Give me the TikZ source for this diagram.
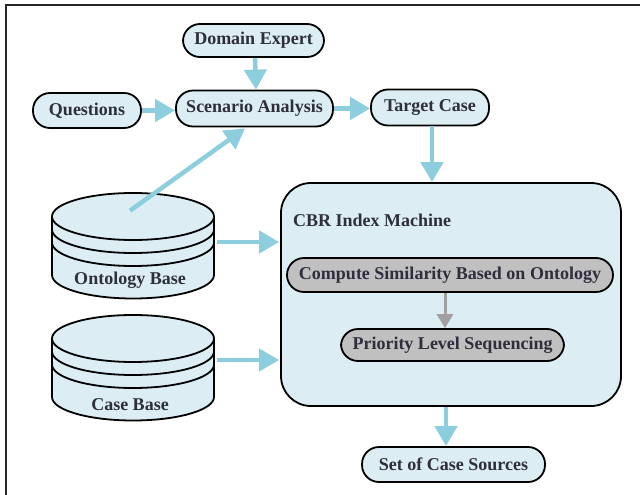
\documentclass[tikz,border=0pt]{standalone}
\usepackage{fontspec}
\setmainfont{Liberation Serif}[BoldFont={Liberation Serif Bold}]
\usetikzlibrary{arrows.meta}
\definecolor{paleblue}{HTML}{DCEEF4}
\definecolor{flowblue}{HTML}{8CCDDE}
\definecolor{stepgrey}{HTML}{C0C0C0}
\definecolor{innerarrow}{HTML}{A0A0A0}
\definecolor{inkdark}{HTML}{2E2E3C}
\begin{document}
\begin{tikzpicture}[x=1pt,y=-1pt,
  labelfont/.style={font=\rmfamily\fontsize{18}{20}\selectfont\bfseries, text=inkdark},
  pill/.style={draw=black, line width=1.8pt, fill=paleblue, rounded corners=17pt,
    minimum height=34pt, inner sep=0pt, labelfont},
  greypill/.style={pill, fill=stepgrey},
  flow/.style={draw=flowblue, line width=4.5pt, -{Triangle[length=20pt,width=22pt]}},
  innerflow/.style={draw=innerarrow, line width=3pt, -{Triangle[length=14pt,width=16pt]}},
  diskline/.style={draw=black, line width=1.8pt},
  % stacked-disk database symbol; (0,0) is the centre of the top ellipse
  pics/dbstack/.style={code={
    \fill[paleblue] (-81,0) -- (-81,58.5)
      arc[start angle=180, end angle=0, x radius=81, y radius=23.5]
      -- (81,0) arc[start angle=0, end angle=-180, x radius=81, y radius=23.5] -- cycle;
    \draw[diskline] (-81,0) -- (-81,58.5)
      arc[start angle=180, end angle=0, x radius=81, y radius=23.5] -- (81,0);
    \draw[diskline] (0,0) ellipse[x radius=81, y radius=23.5];
    \draw[diskline] (-81,13) arc[start angle=180, end angle=0, x radius=81, y radius=23.5];
    \draw[diskline] (-81,26) arc[start angle=180, end angle=0, x radius=81, y radius=23.5];
  }}]
\useasboundingbox (0,0) rectangle (640,495);

% partial frame
\draw[line width=2pt, draw=black!85] (640,5) -- (5.5,5) -- (5.5,495);

% top row
\node[pill, minimum width=141pt, minimum height=33pt] (de) at (253.5,40.5) {Domain Expert};
\node[pill, minimum width=108pt, minimum height=35pt] (q) at (87,110.5) {Questions};
\node[pill, minimum width=157pt, minimum height=36pt] (sa) at (254.5,108.5) {Scenario Analysis};
\node[pill, minimum width=118pt, minimum height=36pt] (tc) at (430,107.5) {Target Case};

% databases
\pic at (133,216.5) {dbstack};
\pic at (133,338.5) {dbstack};
\node[minimum width=162pt, minimum height=105pt, inner sep=0pt] (onto) at (133,245.5) {};
\node[minimum width=162pt, minimum height=106pt, inner sep=0pt] (cb) at (133,368) {};
\node[labelfont] (ontolabel) at (130,280) {Ontology Base};
\node[labelfont] (cblabel) at (130,405) {Case Base};

% index machine
\node[draw=black, line width=1.8pt, fill=paleblue, rounded corners=30pt,
  minimum width=340pt, minimum height=223pt, inner sep=0pt] (cbr) at (451,294.5) {};
\node[labelfont, anchor=west, inner sep=0pt] (cbrlabel) at (293,220) {CBR Index Machine};
\node[greypill, minimum width=326pt, minimum height=34pt] (cs) at (450,275)
  {Compute Similarity Based on Ontology};
\node[greypill, minimum width=223pt, minimum height=32pt] (pls) at (452.5,345)
  {Priority Level Sequencing};

% result
\node[pill, minimum width=183pt, minimum height=35pt] (scs) at (453.5,464.5) {Set of Case Sources};

% connectors
\draw[flow] ([xshift=1.5pt]de.south) -- ([xshift=1.5pt]sa.north);
\draw[flow] (q.east) -- (q.east -| sa.west);
\draw[flow] (sa.east) -- (sa.east -| tc.west);
\coordinate (tcOut) at ([xshift=2pt]tc.south);
\draw[flow] (tcOut) -- (tcOut |- cbr.north);
\coordinate (ontoTail) at (130,210.7);
\draw[flow] (ontoTail) -- ([xshift=-9.5pt,yshift=-1pt]sa.south);
\coordinate (ontoOut) at ([xshift=3pt,yshift=3.5pt]onto.east);
\draw[flow] (ontoOut) -- ([xshift=-1pt]ontoOut -| cbr.west);
\coordinate (cbOut) at ([xshift=3pt,yshift=8pt]cb.east);
\draw[flow] (cbOut) -- ([xshift=-1pt]cbOut -| cbr.west);
\coordinate (csOut) at ([xshift=-5pt]cs.south);
\draw[innerflow] (csOut) -- (csOut |- pls.north);
\coordinate (cbrOut) at ([xshift=-5pt]cbr.south);
\draw[flow] (cbrOut) -- (cbrOut |- scs.north);
\end{tikzpicture}
\end{document}
